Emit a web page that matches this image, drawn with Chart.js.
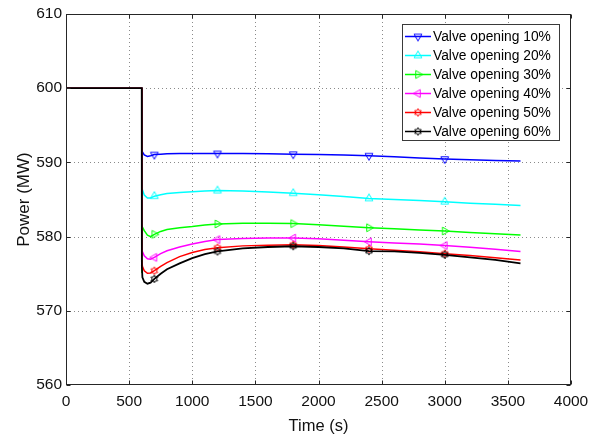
<!DOCTYPE html>
<html><head><meta charset="utf-8">
<script src="https://cdn.jsdelivr.net/npm/chart.js@4.4.1/dist/chart.umd.min.js"></script>
<style>html,body{margin:0;padding:0;background:#fff;}canvas{display:block}</style>
</head><body>
<canvas id="c" width="597" height="440"></canvas>
<script>
// ---- data ----
const times   = [0,600,601,605,620,645,670,700,750,800,900,1000,1100,1200,1400,1600,1800,2000,2200,2400,2600,2800,3000,3200,3400,3600];
const valve10 = [600,600,591.6,591.4,591.0,590.8,590.9,591.05,591.1,591.15,591.2,591.2,591.2,591.2,591.2,591.15,591.1,591.05,591.0,590.9,590.75,590.6,590.45,590.35,590.25,590.2];
const valve20 = [600,600,586.6,586.3,585.6,585.2,585.2,585.45,585.65,585.8,585.95,586.05,586.15,586.2,586.15,586.0,585.85,585.65,585.4,585.15,585.0,584.85,584.7,584.5,584.35,584.2];
const valve30 = [600,600,575.1,581.3,580.8,580.2,580.0,580.3,580.7,580.95,581.2,581.35,581.55,581.7,581.8,581.8,581.75,581.6,581.4,581.2,581.05,580.9,580.75,580.55,580.4,580.2];
const valve40 = [600,600,578.5,578.0,577.4,577.0,576.95,577.2,577.7,578.1,578.6,579.0,579.35,579.6,579.75,579.8,579.8,579.7,579.5,579.3,579.15,579.0,578.8,578.55,578.3,578.0];
const valve50 = [600,600,577.0,576.0,575.4,575.05,575.1,575.4,576.0,576.5,577.3,577.85,578.25,578.5,578.75,578.85,578.9,578.8,578.6,578.35,578.15,577.95,577.7,577.45,577.15,576.85];
const valve60 = [600,600,576.0,574.5,573.9,573.65,573.8,574.3,575.0,575.6,576.4,577.1,577.65,578.0,578.4,578.6,578.7,578.6,578.4,578.05,578.0,577.8,577.55,577.2,576.85,576.4];
const seriesLabels = ['Valve opening 10%','Valve opening 20%','Valve opening 30%','Valve opening 40%','Valve opening 50%','Valve opening 60%'];
const markerTimes = [700,1200,1800,2400,3000];
const xTicks = [0,500,1000,1500,2000,2500,3000,3500,4000];
const yTicks = [560,570,580,590,600,610];

// ---- styles ----
const colors = ['#0000ff','#00ffff','#00ff00','#ff00ff','#ff0000','#000000'];
const markerKinds = ['triDown','triUp','triRight','triLeft','hexagram','hexagram'];
const FONT = '"Liberation Sans", Arial, sans-serif';

function drawMarker(ctx, kind, cx, cy, color){
  ctx.save();
  ctx.strokeStyle = color; ctx.lineWidth = 1; ctx.setLineDash([]);
  ctx.beginPath();
  const r = 4.5;
  if (kind === 'hexagram') {
    for (let i=0;i<12;i++){
      const a = -Math.PI/2 + i*Math.PI/6;
      const rr = (i%2===0) ? 3.8 : 2.2;
      const px = cx + rr*Math.cos(a), py = cy + rr*Math.sin(a);
      if (i===0) ctx.moveTo(px,py); else ctx.lineTo(px,py);
    }
  } else {
    const base = {triUp:-90, triDown:90, triRight:0, triLeft:180}[kind];
    for (let i=0;i<3;i++){
      const a = (base + i*120)*Math.PI/180;
      const px = cx + r*Math.cos(a), py = cy + r*Math.sin(a);
      if (i===0) ctx.moveTo(px,py); else ctx.lineTo(px,py);
    }
  }
  ctx.closePath(); ctx.stroke();
  ctx.restore();
}
function markerCanvas(kind, color){
  const cv = document.createElement('canvas');
  cv.width = 12; cv.height = 12;
  drawMarker(cv.getContext('2d'), kind, 6, 6, color);
  return cv;
}
const markerImgs = colors.map((c,i)=>markerCanvas(markerKinds[i], c));

const seriesValues = [valve10, valve20, valve30, valve40, valve50, valve60];
const datasets = seriesValues.map((vals, i) => ({
  label: seriesLabels[i],
  data: times.map((t, k) => ({x: t, y: vals[k]})),
  borderColor: colors[i],
  borderWidth: i === 5 ? 1.8 : 1.5,
  pointStyle: markerImgs[i],
  pointRadius: ctx => (ctx.raw && markerTimes.includes(ctx.raw.x)) ? 4.5 : 0,
  pointHoverRadius: 0,
  tension: 0,
  fill: false,
  order: 6 - i
}));

const framePlugin = {
  id: 'frame',
  beforeDatasetsDraw(chart){
    const {ctx, chartArea:a, scales:{x, y}} = chart;
    ctx.save();
    ctx.strokeStyle = '#8a8a8a'; ctx.lineWidth = 1; ctx.setLineDash([1,3]);
    xTicks.forEach(v => {
      if (v <= x.min || v >= x.max) return;
      const px = Math.round(x.getPixelForValue(v)) + 0.5;
      ctx.beginPath(); ctx.moveTo(px, a.top); ctx.lineTo(px, a.bottom); ctx.stroke();
    });
    yTicks.forEach(v => {
      if (v <= y.min || v >= y.max) return;
      const py = Math.round(y.getPixelForValue(v)) + 0.5;
      ctx.beginPath(); ctx.moveTo(a.left, py); ctx.lineTo(a.right, py); ctx.stroke();
    });
    ctx.restore();
  },
  afterDatasetsDraw(chart){
    const {ctx, chartArea:a, scales:{x, y}} = chart;
    ctx.save();
    ctx.setLineDash([]);
    ctx.strokeStyle = '#262626'; ctx.lineWidth = 1;
    const L = Math.round(a.left)+0.5, R = Math.round(a.right)-0.5, T = Math.round(a.top)+0.5, B = Math.round(a.bottom)-0.5;
    ctx.strokeRect(L, T, R-L, B-T);
    const tl = 4;
    xTicks.forEach(v => {
      const px = Math.round(x.getPixelForValue(v)) + 0.5;
      ctx.beginPath(); ctx.moveTo(px, B); ctx.lineTo(px, B-tl); ctx.moveTo(px, T); ctx.lineTo(px, T+tl); ctx.stroke();
    });
    yTicks.forEach(v => {
      const py = Math.round(y.getPixelForValue(v)) + 0.5;
      ctx.beginPath(); ctx.moveTo(L, py); ctx.lineTo(L+tl, py); ctx.moveTo(R, py); ctx.lineTo(R-tl, py); ctx.stroke();
    });
    // legend
    const bx = 402.5, by = 24.5, bw = 157, bh = 116;
    ctx.fillStyle = '#ffffff'; ctx.fillRect(bx, by, bw, bh);
    ctx.strokeStyle = '#3a3a3a'; ctx.strokeRect(bx, by, bw, bh);
    ctx.font = '13.8px ' + FONT; ctx.textBaseline = 'middle'; ctx.textAlign = 'left';
    chart.data.datasets.forEach((ds, i) => {
      const ry = 36.5 + i*19;
      ctx.strokeStyle = colors[i]; ctx.lineWidth = 1.5;
      ctx.beginPath(); ctx.moveTo(405, ry); ctx.lineTo(431, ry); ctx.stroke();
      ctx.drawImage(markerImgs[i], 418 - 6, ry - 6);
      ctx.fillStyle = '#000'; ctx.fillText(ds.label, 433, ry + 0.5);
    });
    ctx.restore();
  }
};

new Chart(document.getElementById('c'), {
  type: 'line',
  data: { datasets },
  options: {
    responsive: false, animation: false, devicePixelRatio: 1,
    layout: { padding: { top: 14, right: 26, left: 0, bottom: 0 } },
    plugins: { legend: { display: false }, tooltip: { enabled: false } },
    scales: {
      x: {
        type: 'linear', min: 0, max: 4000,
        afterFit: s => { s.height = 55; },
        afterBuildTicks: s => { s.ticks = xTicks.map(v => ({value: v})); },
        grid: { display: false, drawTicks: false },
        border: { display: false },
        ticks: { padding: 7, color: '#111', font: { family: FONT, size: 15.5 }, maxRotation: 0, autoSkip: false, callback: v => String(v) },
        title: { display: true, text: 'Time (s)', color: '#111', font: { family: FONT, size: 16.5 }, padding: { top: 0, bottom: 4 } }
      },
      y: {
        type: 'linear', min: 560, max: 610,
        afterFit: s => { s.width = 66; },
        afterBuildTicks: s => { s.ticks = yTicks.map(v => ({value: v})); },
        grid: { display: false, drawTicks: false },
        border: { display: false },
        ticks: { padding: 4, color: '#111', font: { family: FONT, size: 15.5 }, callback: v => String(v) },
        title: { display: true, text: 'Power (MW)', color: '#111', font: { family: FONT, size: 17 }, padding: { top: 14, bottom: 0 } }
      }
    }
  },
  plugins: [framePlugin]
});
</script>
</body></html>
